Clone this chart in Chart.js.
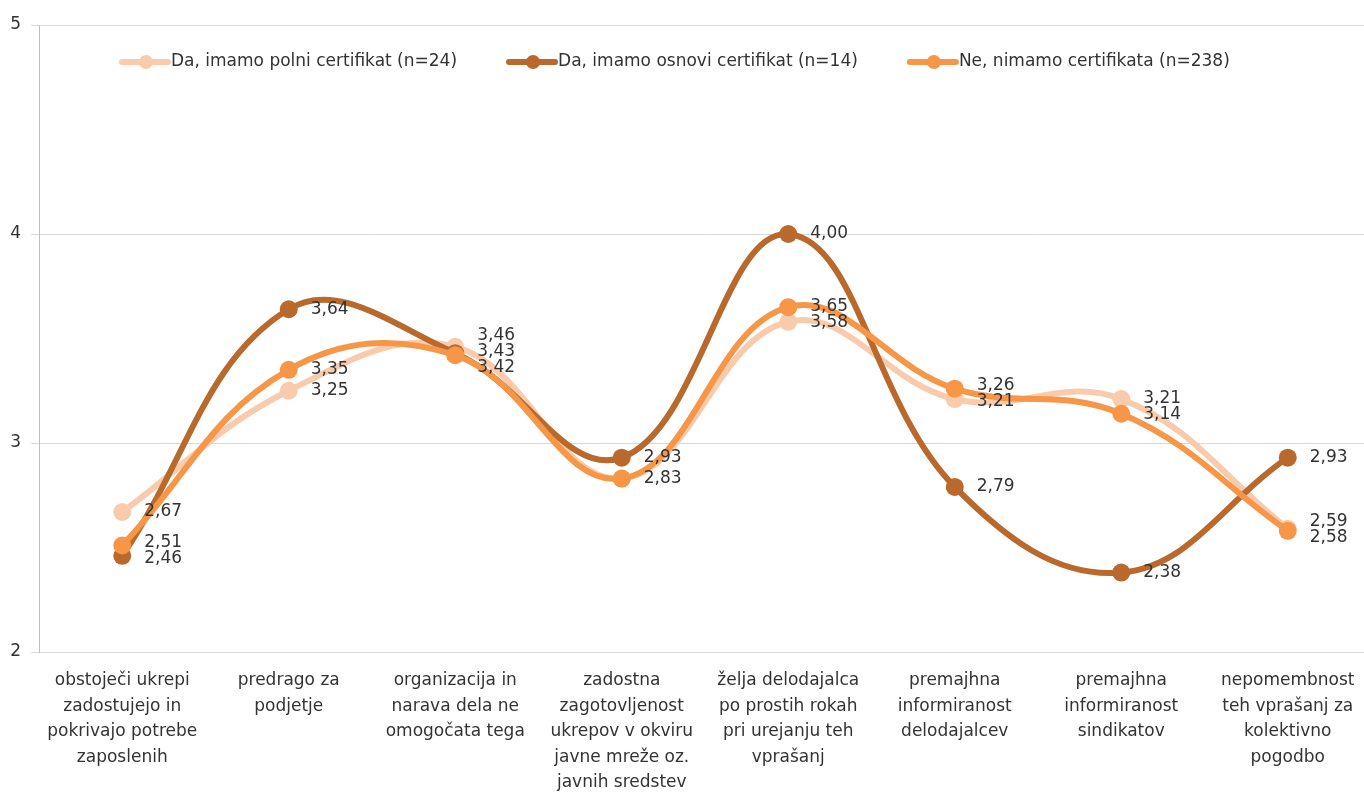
<!DOCTYPE html>
<html>
<head>
<meta charset="utf-8">
<script src="https://cdn.jsdelivr.net/npm/chart.js@4/dist/chart.umd.min.js"></script>
<style>
  body { margin: 0; overflow: hidden; background: #fff; }
  #wrap { width: 1380px; height: 795px; position: relative; }
</style>
</head>
<body>
<div id="wrap"><canvas id="myChart"></canvas></div>
<script>
const categories = [
  ['obstoječi ukrepi', 'zadostujejo in', 'pokrivajo potrebe', 'zaposlenih'],
  ['predrago za', 'podjetje'],
  ['organizacija in', 'narava dela ne', 'omogočata tega'],
  ['zadostna', 'zagotovljenost', 'ukrepov v okviru', 'javne mreže oz.', 'javnih sredstev'],
  ['želja delodajalca', 'po prostih rokah', 'pri urejanju teh', 'vprašanj'],
  ['premajhna', 'informiranost', 'delodajalcev'],
  ['premajhna', 'informiranost', 'sindikatov'],
  ['nepomembnost', 'teh vprašanj za', 'kolektivno', 'pogodbo']
];
const seriesNames = [
  'Da, imamo polni certifikat (n=24)',
  'Da, imamo osnovi certifikat (n=14)',
  'Ne, nimamo certifikata (n=238)'
];
const polni   = [2.67, 3.25, 3.46, 2.83, 3.58, 3.21, 3.21, 2.59];
const osnovi  = [2.46, 3.64, 3.43, 2.93, 4.00, 2.79, 2.38, 2.93];
const nimamo  = [2.51, 3.35, 3.42, 2.83, 3.65, 3.26, 3.14, 2.58];
const yTicks = [2, 3, 4, 5];

const colors = ['#F8CBAD', '#B8692B', '#F79646'];
const font = '"DejaVu Sans", "Noto Sans", sans-serif';
const textColor = '#333333';

const fmt = v => v.toFixed(2).replace('.', ',');

// value labels right of the points, nudged apart when they collide
const valueLabels = {
  id: 'valueLabels',
  afterDatasetsDraw(chart) {
    const ctx = chart.ctx;
    ctx.save();
    ctx.font = '17px ' + font;
    ctx.fillStyle = textColor;
    ctx.textBaseline = 'middle';
    ctx.textAlign = 'left';
    for (let i = 0; i < categories.length; i++) {
      let items = [];
      chart.data.datasets.forEach((ds, d) => {
        const pt = chart.getDatasetMeta(d).data[i];
        const txt = fmt(ds.data[i]);
        if (items.some(it => it.txt === txt)) return;
        items.push({ txt: txt, x: pt.x, y: pt.y });
      });
      items.sort((a, b) => a.y - b.y);
      const gap = 16;
      for (let k = 0; k < 20; k++) {
        let moved = false;
        for (let j = 1; j < items.length; j++) {
          const diff = items[j].y - items[j - 1].y;
          if (diff < gap) {
            const push = (gap - diff) / 2;
            items[j].y += push;
            items[j - 1].y -= push;
            moved = true;
          }
        }
        if (!moved) break;
      }
      items.forEach(it => ctx.fillText(it.txt, it.x + 22, it.y));
    }
    ctx.restore();
  }
};

// legend drawn inside plot area, Excel style
const insideLegend = {
  id: 'insideLegend',
  afterDraw(chart) {
    const ctx = chart.ctx;
    ctx.save();
    ctx.font = '17px ' + font;
    ctx.textBaseline = 'middle';
    let x = 122;
    const y = 62;
    seriesNames.forEach((name, i) => {
      ctx.strokeStyle = colors[i];
      ctx.lineWidth = 6;
      ctx.lineCap = 'round';
      ctx.beginPath();
      ctx.moveTo(x, y);
      ctx.lineTo(x + 46, y);
      ctx.stroke();
      ctx.fillStyle = colors[i];
      ctx.beginPath();
      ctx.arc(x + 24, y, 7, 0, Math.PI * 2);
      ctx.fill();
      ctx.fillStyle = textColor;
      ctx.fillText(name, x + 49, y);
      x += 49 + ctx.measureText(name).width + 52;
    });
    ctx.restore();
  }
};

const ctx = document.getElementById('myChart').getContext('2d');

const chart = new Chart(ctx, {
  type: 'line',
  data: {
    labels: categories,
    datasets: [
      { label: seriesNames[0], data: polni, borderColor: colors[0], backgroundColor: colors[0], order: 2 },
      { label: seriesNames[1], data: osnovi, borderColor: colors[1], backgroundColor: colors[1], order: 1 },
      { label: seriesNames[2], data: nimamo, borderColor: colors[2], backgroundColor: colors[2], order: 0 }
    ]
  },
  options: {
    responsive: true,
    maintainAspectRatio: false,
    animation: false,
    layout: { padding: { top: 25, right: 0, left: 0, bottom: 0 } },
    elements: {
      line: { borderWidth: 6, tension: 0.4, fill: false },
      point: { radius: 9, borderWidth: 0, hoverRadius: 9 }
    },
    scales: {
      x: {
        offset: true,
        grid: { display: false },
        border: { display: false },
        ticks: {
          color: textColor,
          font: { family: font, size: 17, lineHeight: 1.5 },
          maxRotation: 0,
          autoSkip: false,
          padding: 8
        },
        afterFit(scale) { scale.height = 143; }
      },
      y: {
        min: 2,
        max: 5,
        afterBuildTicks(scale) { scale.ticks = yTicks.map(v => ({ value: v })); },
        grid: { color: '#D9D9D9', tickLength: 8 },
        border: { display: true, color: '#BFBFBF' },
        ticks: {
          color: textColor,
          font: { family: font, size: 17 },
          padding: 10
        },
        afterFit(scale) { scale.width = 39; }
      }
    },
    plugins: {
      legend: { display: false },
      tooltip: { enabled: false }
    }
  },
  plugins: [valueLabels, insideLegend]
});
</script>
</body>
</html>
